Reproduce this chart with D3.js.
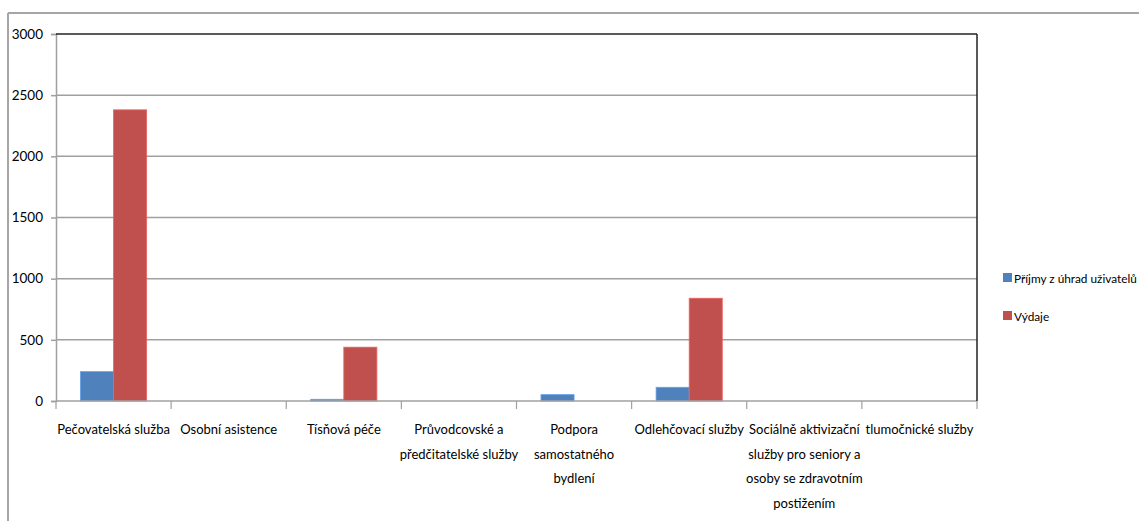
<!DOCTYPE html>
<html>
<head>
<meta charset="utf-8">
<script src="https://cdn.jsdelivr.net/npm/d3@7"></script>
<style>
  html, body { margin: 0; padding: 0; background: #fff; }
  svg { display: block; }
  text { font-family: Lato, "Open Sans", sans-serif; fill: #000; }
</style>
</head>
<body>
<svg id="chart" width="1139" height="521"></svg>
<script>
// Service categories (each entry is a list of wrapped label lines)
const categories = [
  ["Pečovatelská služba"],
  ["Osobní asistence"],
  ["Tísňová péče"],
  ["Průvodcovské a", "předčitatelské služby"],
  ["Podpora", "samostatného", "bydlení"],
  ["Odlehčovací služby"],
  ["Sociálně aktivizační", "služby pro seniory a", "osoby se zdravotním", "postižením"],
  ["tlumočnické služby"]
];
const seriesNames = ["Příjmy z úhrad uživatelů", "Výdaje"];
const prijmy = [240, 0, 14, 0, 52, 112, 0, 0];
const vydaje = [2380, 0, 440, 0, 0, 840, 0, 0];
const yTicks = [0, 500, 1000, 1500, 2000, 2500, 3000];
const colors = ["#4F81BD", "#C0504D"];

const svg = d3.select("#chart");
const W = 1139;
const m = { left: 56, top: 34, right: 977, bottom: 401 };
const fontSize = 13;

// Outer frame (top and left edges)
svg.append("line").attr("x1", 8).attr("x2", W).attr("y1", 13).attr("y2", 13)
  .attr("stroke", "#a6a6a6").attr("stroke-width", 2);
svg.append("line").attr("x1", 8).attr("x2", 8).attr("y1", 13).attr("y2", 521)
  .attr("stroke", "#a6a6a6").attr("stroke-width", 2);

const x = d3.scaleBand().domain(d3.range(categories.length)).range([m.left, m.right]);
const y = d3.scaleLinear().domain([0, 3000]).range([m.bottom, m.top]);
const inner = d3.scaleBand().domain([0, 1]).range([0, x.bandwidth()]).paddingOuter(0.74).paddingInner(0);

// Horizontal gridlines
svg.append("g").selectAll("line").data(yTicks.filter(v => v > 0 && v < 3000)).join("line")
  .attr("x1", m.left).attr("x2", m.right)
  .attr("y1", d => y(d)).attr("y2", d => y(d))
  .attr("stroke", "#a0a0a0").attr("stroke-width", 1.5);

// Y axis
const yAxis = svg.append("g").attr("transform", `translate(${m.left},0)`)
  .call(d3.axisLeft(y).tickValues(yTicks).tickSize(5).tickPadding(8).tickFormat(d3.format("d")));
yAxis.select(".domain").attr("stroke", "#a0a0a0").attr("stroke-width", 1.5);
yAxis.selectAll(".tick line").attr("stroke", "#a0a0a0").attr("stroke-width", 1.5);
yAxis.selectAll(".tick text").attr("font-size", fontSize + 0.5).attr("fill", "#000")
  .style("font-family", 'Lato, "Open Sans", sans-serif');

// Bars
const series = [prijmy, vydaje];
series.forEach((vals, si) => {
  svg.append("g").selectAll("rect").data(vals).join("rect")
    .attr("x", (d, i) => x(i) + inner(si))
    .attr("width", inner.bandwidth())
    .attr("y", d => y(d))
    .attr("height", d => y(0) - y(d))
    .attr("fill", colors[si])
    .attr("stroke", d => d > 0 ? d3.color(colors[si]).brighter(0.6) : "none")
    .attr("stroke-width", 0.8);
});

// X axis baseline and category ticks
svg.append("line").attr("x1", m.left).attr("x2", m.right).attr("y1", y(0)).attr("y2", y(0))
  .attr("stroke", "#a0a0a0").attr("stroke-width", 1.5);
const tickXs = d3.range(categories.length + 1).map(i => m.left + i * x.step());
svg.append("g").selectAll("line").data(tickXs).join("line")
  .attr("x1", d => d).attr("x2", d => d).attr("y1", y(0)).attr("y2", y(0) + 8)
  .attr("stroke", "#a0a0a0").attr("stroke-width", 1.2);

// Plot-area frame: top and right edges
svg.append("line").attr("x1", m.left).attr("x2", m.right).attr("y1", m.top).attr("y2", m.top)
  .attr("stroke", "#222").attr("stroke-width", 1.5);
svg.append("line").attr("x1", m.right).attr("x2", m.right).attr("y1", m.top).attr("y2", m.bottom)
  .attr("stroke", "#222").attr("stroke-width", 1.5);

// Category labels
const lbl = svg.append("g").selectAll("text").data(categories).join("text")
  .attr("text-anchor", "middle").attr("font-size", fontSize)
  .attr("transform", (d, i) => `translate(${x(i) + x.bandwidth() / 2},434)`);
lbl.selectAll("tspan").data(d => d).join("tspan")
  .attr("x", 0).attr("dy", (d, j) => j === 0 ? 0 : 24.5).text(d => d);

// Legend (text shrunk so the longest entry still fits inside the page)
const lg = svg.append("g").selectAll("g").data(seriesNames).join("g")
  .attr("transform", (d, i) => `translate(1003,${278 + i * 38})`);
lg.append("rect").attr("x", 0).attr("y", -5).attr("width", 9).attr("height", 9)
  .attr("fill", (d, i) => colors[i]);
const lgText = lg.append("text").attr("x", 11).attr("y", 5).attr("font-size", fontSize).text(d => d);
const room = W - 1003 - 11 - 2;
const widest = d3.max(lgText.nodes(), n => n.getComputedTextLength());
if (widest > room) lgText.attr("font-size", fontSize * room / widest);
</script>
</body>
</html>
